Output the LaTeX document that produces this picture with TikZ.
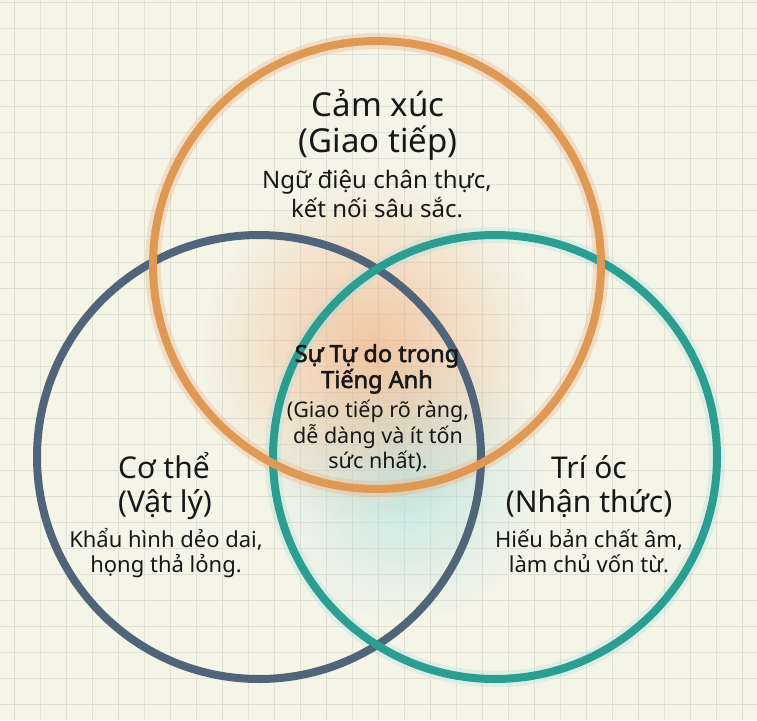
\documentclass[tikz,border=0pt]{standalone}
\usepackage{fontspec}
\setmainfont{Noto Sans}
\newfontfamily\corefont{Noto Sans}[FakeBold=2.2]
\usepackage{xcolor}
\usetikzlibrary{fadings}

\definecolor{paper}{RGB}{244,244,231}
\definecolor{gridline}{RGB}{224,224,212}
\definecolor{heartcol}{RGB}{223,153,84}
\definecolor{bodycol}{RGB}{80,101,121}
\definecolor{mindcol}{RGB}{44,157,145}
\definecolor{ink}{RGB}{24,24,24}
\definecolor{warmglow}{RGB}{240,172,124}
\definecolor{coolglow}{RGB}{170,225,225}

\tikzfading[name=glowfade, inner color=transparent!35, outer color=transparent!100]

\begin{document}
\begin{tikzpicture}[x=1pt,y=-1pt,semithick]
  \tikzstyle{ring}=[line width=8pt]
  \tikzstyle{halo}=[line width=16pt, opacity=0.3]
  \tikzstyle{head}=[font=\fontsize{30}{36}\selectfont, text=ink, anchor=base, inner sep=0pt]
  \tikzstyle{note}=[font=\fontsize{22}{26}\selectfont, text=ink, anchor=base, inner sep=0pt]
  \tikzstyle{core}=[font=\corefont\fontsize{23.5}{28}\selectfont, text=ink, anchor=base, inner sep=0pt]

  % paper and grid
  \fill[paper] (0,0) rectangle (757,720);
  \useasboundingbox (0,0) rectangle (757,720);
  \foreach \x in {14,40,...,756}
    \draw[gridline, line width=1pt] (\x,0) -- (\x,720);
  \foreach \y in {2,28,...,719}
    \draw[gridline, line width=1pt] (0,\y) -- (757,\y);

  % centres
  \coordinate (heart) at (377,265);
  \coordinate (body) at (259,457);
  \coordinate (mind) at (495,457);

  % soft glows in the middle
  \fill[coolglow, path fading=glowfade] (405,480) circle (140pt);
  \fill[warmglow, path fading=glowfade] (372,350) circle (170pt);

  % rings
  \draw[halo, coolglow] (mind) circle (222pt);
  \draw[halo, warmglow] (heart) circle (224pt);
  \draw[ring, bodycol] (body) circle (222pt);
  \draw[ring, mindcol] (mind) circle (222pt);
  \draw[ring, heartcol] (heart) circle (224pt);

  % top circle
  \node[head, font=\fontsize{33}{38}\selectfont] (heartA) at (378,116) {Cảm xúc};
  \node[head, font=\fontsize{33}{38}\selectfont] (heartB) at (378,152) {(Giao tiếp)};
  \node[note, font=\fontsize{24}{28}\selectfont] (heartC) at (377,188) {Ngữ điệu chân thực,};
  \node[note, font=\fontsize{24}{28}\selectfont] (heartD) at (377,217) {kết nối sâu sắc.};

  % left circle
  \node[head] (bodyA) at (164,478) {Cơ thể};
  \node[head] (bodyB) at (165,512) {(Vật lý)};
  \node[note] (bodyC) at (166,547) {Khẩu hình dẻo dai,};
  \node[note] (bodyD) at (166,572) {họng thả lỏng.};

  % right circle
  \node[head] (mindA) at (589,478) {Trí óc};
  \node[head] (mindB) at (589,512) {(Nhận thức)};
  \node[note] (mindC) at (589,547) {Hiếu bản chất âm,};
  \node[note] (mindD) at (589,572) {làm chủ vốn từ.};

  % centre
  \node[core] (coreA) at (377,362) {Sự Tự do trong};
  \node[core] (coreB) at (377,388) {Tiếng Anh};
  \node[note, font=\fontsize{21.5}{26}\selectfont] (coreC) at (378,417) {(Giao tiếp rõ ràng,};
  \node[note, font=\fontsize{21.5}{26}\selectfont] (coreD) at (378,443) {dễ dàng và ít tốn};
  \node[note, font=\fontsize{21.5}{26}\selectfont] (coreE) at (378,468) {sức nhất).};
\end{tikzpicture}
\end{document}
